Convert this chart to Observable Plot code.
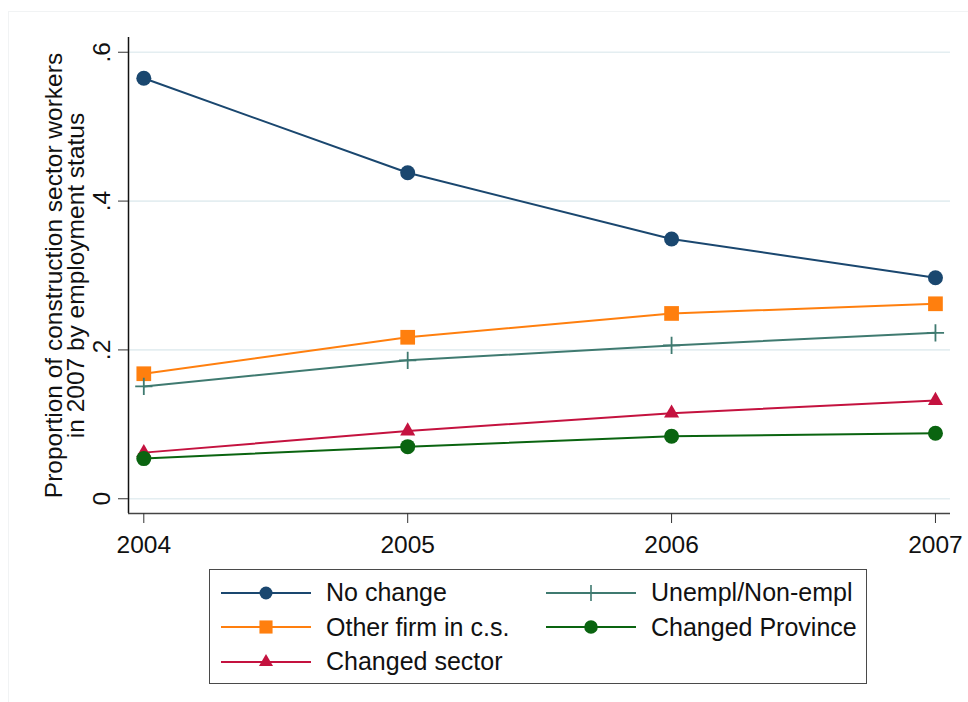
<!DOCTYPE html>
<html>
<head>
<meta charset="utf-8">
<script src="https://cdn.jsdelivr.net/npm/d3@7"></script>
<script src="https://cdn.jsdelivr.net/npm/@observablehq/plot@0.6"></script>
<style>
  body { margin: 0; background: #fff; font-family: "Liberation Sans", Arial, sans-serif; }
  #wrap { position: relative; width: 968px; height: 702px; overflow: hidden; }
  #outer { position: absolute; left: 8px; top: 11px; right: -2px; bottom: -2px; border: 1px solid #f1f3f4; }
  #chart { position: absolute; left: 0; top: 0; }
  #legend {
    position: absolute; left: 209px; top: 569px;
    border: 1.5px solid #4a4a4a; background: #fff;
    display: grid; grid-template-columns: 325px 325px; grid-auto-rows: 34.5px;
    padding: 5.5px 0 0 11px; box-sizing: border-box; width: 658px; height: 115px;
  }
  .item { display: flex; align-items: center; font-size: 25px; color: #111; white-space: nowrap; }
  .item svg { flex: none; margin-right: 15px; }
</style>
</head>
<body>
<div id="wrap">
  <div id="outer"></div>
  <div id="chart"></div>
  <div id="legend"></div>
</div>
<script>
// Survey years and the share of 2007 construction-sector workers in each status
const years = [2004, 2005, 2006, 2007];
const noChange        = [0.565, 0.438, 0.349, 0.297];
const otherFirm       = [0.168, 0.217, 0.249, 0.262];
const changedSector   = [0.062, 0.091, 0.115, 0.132];
const unempl          = [0.151, 0.186, 0.206, 0.223];
const changedProvince = [0.054, 0.070, 0.084, 0.088];

const seriesNames = ["No change", "Other firm in c.s.", "Changed sector", "Unempl/Non-empl", "Changed Province"];
const seriesValues = [noChange, otherFirm, changedSector, unempl, changedProvince];

const yTicks = [0, 0.2, 0.4, 0.6];
const yTickLabels = ["0", ".2", ".4", ".6"];
const yTitleLines = ["Proportion of construction sector workers", "in 2007 by employment status"];

// Legend layout, row by row in two columns
const legendOrder = ["No change", "Unempl/Non-empl", "Other firm in c.s.", "Changed Province", "Changed sector"];

// Per-series appearance
const look = {
  "No change":          {color: "#1a476f", symbol: "circle",   r: 7.5, keyR: 6.5},
  "Other firm in c.s.": {color: "#ff7f0e", symbol: "square",   r: 8.3, keyR: 7.4},
  "Changed sector":     {color: "#c4123f", symbol: "triangle", r: 5.6, keyR: 5.2},
  "Unempl/Non-empl":    {color: "#3f7a70", symbol: "plus",     r: 5.6, keyR: 5.2},
  "Changed Province":   {color: "#0a6410", symbol: "circle",   r: 7.5, keyR: 6.8}
};

const rows = seriesNames.flatMap((name, s) =>
  years.map((year, i) => ({series: name, year, value: seriesValues[s][i]}))
);

const xDomain = [2003.942, 2007.057];
const yDomain = [-0.0198, 0.6198];

const marks = [
  Plot.gridY(yTicks, {stroke: "#e4eef1", strokeOpacity: 1, strokeWidth: 1.6}),
  Plot.ruleX([xDomain[0]], {stroke: "#111", strokeWidth: 1.5}),
  Plot.ruleY([yDomain[0]], {stroke: "#444", strokeWidth: 1.5}),
  Plot.axisX(years, {
    label: null, tickSize: 10, tickPadding: 12, stroke: "#333", fill: "#111",
    tickFormat: d => String(d), fontSize: 24.5
  }),
  Plot.axisY(yTicks, {
    label: null, tickSize: 10, tickPadding: 9, tickRotate: -90, stroke: "#333", fill: "#111",
    tickFormat: d => yTickLabels[yTicks.indexOf(d)], fontSize: 24.5
  }),
  // Two-line vertical axis title, one text per line
  Plot.text([yTitleLines[0]], {
    frameAnchor: "left", rotate: -90, textAnchor: "middle", lineAnchor: "bottom",
    dx: -66.5, fontSize: 24.5, fill: "#111"
  }),
  Plot.text([yTitleLines[1]], {
    frameAnchor: "left", rotate: -90, textAnchor: "middle", lineAnchor: "bottom",
    dx: -44.7, fontSize: 24.5, fill: "#111"
  })
];

for (const name of seriesNames) {
  const s = look[name];
  const data = rows.filter(d => d.series === name);
  marks.push(Plot.line(data, {x: "year", y: "value", stroke: s.color, strokeWidth: 2}));
  if (s.symbol === "plus") {
    marks.push(Plot.dot(data, {x: "year", y: "value", symbol: "plus", r: s.r, stroke: s.color, strokeWidth: 1.8}));
  } else {
    marks.push(Plot.dot(data, {x: "year", y: "value", symbol: s.symbol, r: s.r, fill: s.color, stroke: "none"}));
  }
}

const chart = Plot.plot({
  width: 968,
  height: 565,
  marginLeft: 128,
  marginRight: 18,
  marginTop: 37,
  marginBottom: 52,
  style: {background: "transparent", fontFamily: "'Liberation Sans', Arial, sans-serif", fontSize: "24px", color: "#111"},
  x: {domain: xDomain, axis: null},
  y: {domain: yDomain, axis: null},
  marks
});
document.getElementById("chart").appendChild(chart);

// Legend keys: a line segment with the series marker in its middle
const legend = d3.select("#legend");
for (const name of legendOrder) {
  const s = look[name];
  const item = legend.append("div").attr("class", "item");
  const svg = item.append("svg").attr("width", 90).attr("height", 24);
  svg.append("line").attr("x1", 0).attr("x2", 90).attr("y1", 12).attr("y2", 12)
    .attr("stroke", s.color).attr("stroke-width", 2);
  const symbolType = {circle: d3.symbolCircle, square: d3.symbolSquare, triangle: d3.symbolTriangle, plus: d3.symbolPlus}[s.symbol];
  const path = svg.append("path")
    .attr("transform", "translate(45,12)")
    .attr("d", d3.symbol(symbolType, Math.PI * s.keyR * s.keyR)());
  if (s.symbol === "plus") path.attr("fill", "none").attr("stroke", s.color).attr("stroke-width", 1.6);
  else path.attr("fill", s.color);
  item.append("span").text(name);
}
</script>
</body>
</html>
